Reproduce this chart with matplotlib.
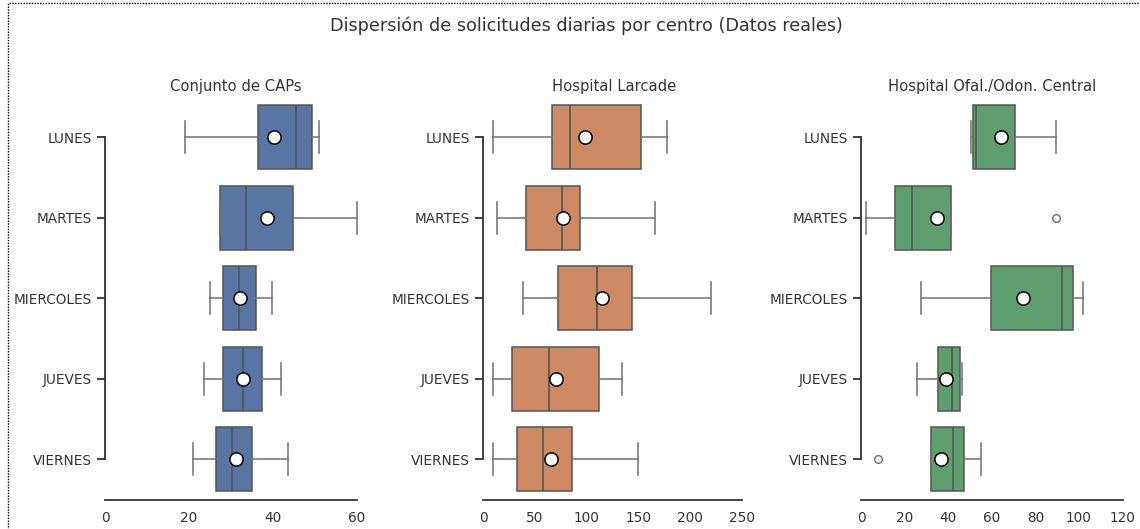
import colorsys
import matplotlib
matplotlib.use("Agg")
import matplotlib.pyplot as plt
import matplotlib.colors as mcolors
from matplotlib.patches import Rectangle

plt.rcParams['font.family'] = ['DejaVu Sans']

dias = ["LUNES", "MARTES", "MIERCOLES", "JUEVES", "VIERNES"]
centros = ["Conjunto de CAPs", "Hospital Larcade", "Hospital Ofal./Odon. Central"]

# Summary statistics (per day)
caps_whislo = [19.0, 27.3, 25.0, 23.5, 20.9]
caps_q1     = [36.5, 27.3, 28.2, 28.2, 26.5]
caps_med    = [45.5, 33.5, 32.0, 32.9, 30.3]
caps_q3     = [49.3, 44.7, 36.0, 37.5, 35.1]
caps_whishi = [51.0, 60.1, 39.8, 41.9, 43.5]
caps_mean   = [40.2, 38.5, 32.1, 32.9, 31.3]
caps_fliers = [[], [], [], [], []]

larc_whislo = [9.0, 12.9, 38.1, 9.0, 9.0]
larc_q1     = [66.2, 41.6, 72.6, 28.1, 32.3]
larc_med    = [84.2, 75.9, 109.7, 63.9, 57.5]
larc_q3     = [152.9, 93.3, 144.2, 111.7, 86.1]
larc_whishi = [177.8, 165.9, 220.3, 134.5, 149.4]
larc_mean   = [98.1, 76.8, 114.5, 70.1, 65.5]
larc_fliers = [[], [], [], [], []]

ofal_whislo = [50.3, 2.3, 27.7, 25.5, 32.1]
ofal_q1     = [51.2, 15.7, 59.6, 35.3, 32.1]
ofal_med    = [52.6, 23.2, 92.0, 41.9, 42.3]
ofal_q3     = [70.6, 41.4, 97.1, 45.4, 47.1]
ofal_whishi = [89.3, 41.4, 101.8, 46.2, 55.2]
ofal_mean   = [64.0, 34.7, 74.1, 39.0, 36.8]
ofal_fliers = [[], [89.3], [], [], [7.6]]

x_ticks = [[0, 20, 40, 60], [0, 50, 100, 150, 200, 250], [0, 20, 40, 60, 80, 100, 120]]
x_limits = [(0, 62.4), (0, 253.5), (0, 120.2)]

base_colors = ["#4C72B0", "#DD8452", "#55A868"]

def desat(c, prop=0.75):
    r, g, b = mcolors.to_rgb(c)
    h, l, s = colorsys.rgb_to_hls(r, g, b)
    return colorsys.hls_to_rgb(h, l, s * prop)

datasets = [
    (caps_whislo, caps_q1, caps_med, caps_q3, caps_whishi, caps_mean, caps_fliers),
    (larc_whislo, larc_q1, larc_med, larc_q3, larc_whishi, larc_mean, larc_fliers),
    (ofal_whislo, ofal_q1, ofal_med, ofal_q3, ofal_whishi, ofal_mean, ofal_fliers),
]

W_PX, H_PX = 1140, 529
fig = plt.figure(figsize=(W_PX / 100, H_PX / 100), dpi=100)

lefts_px = [105, 483.3, 861]
ax_w_px = 262
top_px, bot_px = 97, 499.5

edge_gray = "#555555"
whisk_gray = "#707070"
text_col = "#333333"

for k, (name, data) in enumerate(zip(centros, datasets)):
    ax = fig.add_axes([lefts_px[k] / W_PX, (H_PX - bot_px) / H_PX,
                       ax_w_px / W_PX, (bot_px - top_px) / H_PX])
    wl, q1, md, q3, wh, mn, fl = data
    stats = []
    for i in range(len(dias)):
        stats.append(dict(whislo=wl[i], q1=q1[i], med=md[i], q3=q3[i],
                          whishi=wh[i], mean=mn[i], fliers=fl[i], label=dias[i]))
    fc = desat(base_colors[k])
    ax.bxp(stats, positions=list(range(len(dias))), widths=0.8, vert=False,
           patch_artist=True, showmeans=True, capwidths=0.4,
           boxprops=dict(facecolor=fc, edgecolor=edge_gray, linewidth=1.1),
           whiskerprops=dict(color=whisk_gray, linewidth=1.1),
           capprops=dict(color=whisk_gray, linewidth=1.1),
           medianprops=dict(color=edge_gray, linewidth=1.2),
           meanprops=dict(marker="o", markerfacecolor="white", markeredgecolor="black",
                          markersize=9.5, markeredgewidth=1.1),
           flierprops=dict(marker="o", markerfacecolor="none", markeredgecolor=whisk_gray,
                           markersize=5.5, markeredgewidth=1.0))
    ax.set_ylim(4.5, -0.5)
    ax.set_xlim(*x_limits[k])
    ax.set_xticks(x_ticks[k])
    ax.set_yticks(range(len(dias)))
    ax.set_yticklabels(dias)
    for s in ["top", "right"]:
        ax.spines[s].set_visible(False)
    ax.spines["left"].set_bounds(0, len(dias) - 1)
    ax.spines["bottom"].set_bounds(x_ticks[k][0], x_ticks[k][-1])
    for s in ["left", "bottom"]:
        ax.spines[s].set_color("#333333")
        ax.spines[s].set_linewidth(1.3)
    ax.tick_params(axis="y", length=6, width=1.3, color="#333333", labelsize=9.8,
                   labelcolor=text_col, pad=3.5)
    ax.tick_params(axis="x", length=0, labelsize=9.8, labelcolor=text_col, pad=8)
    ax.set_title(name, fontsize=10.6, color=text_col, pad=4)
    ax.patch.set_visible(False)

fig.text(586.5 / W_PX, 1 - 26 / H_PX,
         "Dispersión de solicitudes diarias por centro (Datos reales)",
         ha="center", va="center", fontsize=12.7, color=text_col)

fig.patches.append(Rectangle((8 / W_PX, -0.1), 1.2, 1 - 3 / H_PX + 0.1,
                             transform=fig.transFigure, fill=False,
                             edgecolor="black", linestyle=(0, (1, 1)), linewidth=1.0))

fig.savefig("out.png", dpi=100)
